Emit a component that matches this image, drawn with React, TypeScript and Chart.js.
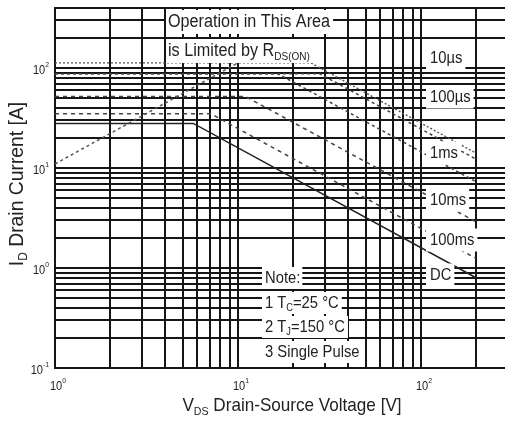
import React, { useEffect, useRef } from "react";
import { Chart, registerables } from "chart.js";
Chart.register(...registerables);

// ---- grid / tick values ----
const xGrid = [1, 2, 3, 4, 5, 6, 7, 8, 9, 10, 20, 30, 40, 50, 60, 70, 80, 90, 100, 200];
const yGrid = [0.1, 0.2, 0.3, 0.4, 0.5, 0.6, 0.7, 0.8, 0.9, 1, 2, 3, 4, 5, 6, 7, 8, 9, 10, 20, 30, 40, 50, 60, 70, 80, 90, 100, 200, 300, 400];
const xDecades = [1, 10, 100];
const xExps = ["0", "1", "2"];
const yDecades = [0.1, 1, 10, 100];
const yExps = ["-1", "0", "1", "2"];

// ---- curves (VDS [V], ID [A]) ----
const rdsV = [1, 10];
const rdsI = [11, 113];
const v10us = [1, 25, 200];
const i10us = [113, 113, 14.1];
const v100us = [1, 28, 200];
const i100us = [88, 88, 12.3];
const v1ms = [1, 16.5, 200];
const i1ms = [88, 88, 7.3];
const v10ms = [1, 11, 200];
const i10ms = [52, 52, 2.9];
const v100ms = [1, 7.1, 200];
const i100ms = [35, 35, 1.25];
const vDC = [1, 5.7, 200];
const iDC = [28, 28, 0.8];

const curveLabels = ["10µs", "100µs", "1ms", "10ms", "100ms", "DC"];

const FONT = "'Liberation Sans', Arial, Helvetica, sans-serif";

type Part = [string, "n" | "sub" | "sup"];

function partFont(size: number, mode: string) {
  const s = mode === "n" ? size : size * 0.62;
  return `${s}px ${FONT}`;
}
function richWidth(ctx: CanvasRenderingContext2D, parts: Part[], size: number, sx = 1) {
  let w = 0;
  for (const [t, m] of parts) {
    ctx.font = partFont(size, m);
    w += ctx.measureText(t).width;
  }
  return w * sx;
}
function drawRich(ctx: CanvasRenderingContext2D, parts: Part[], x: number, y: number, size: number, align: "left" | "center" | "right", sx = 1) {
  const w = richWidth(ctx, parts, size, sx);
  const left = align === "left" ? x : align === "center" ? x - w / 2 : x - w;
  ctx.save();
  ctx.translate(left, y);
  ctx.scale(sx, 1);
  ctx.textAlign = "left";
  ctx.textBaseline = "middle";
  let cx = 0;
  for (const [t, m] of parts) {
    ctx.font = partFont(size, m);
    const dy = m === "sub" ? size * 0.32 : m === "sup" ? -size * 0.38 : 0;
    ctx.fillText(t, cx, dy);
    cx += ctx.measureText(t).width;
  }
  ctx.restore();
  return w;
}

function boxedText(ctx: CanvasRenderingContext2D, parts: Part[], x: number, y: number, size: number, sx: number, padL = 3, padR = 3, h = 22) {
  const w = richWidth(ctx, parts, size, sx);
  ctx.fillStyle = "#fff";
  ctx.fillRect(x - padL, y - h / 2, w + padL + padR, h);
  ctx.fillStyle = "#222";
  drawRich(ctx, parts, x, y, size, "left", sx);
}

const annotPlugin = {
  id: "annot",
  afterDatasetsDraw(chart: any) {
    const ctx: CanvasRenderingContext2D = chart.ctx;
    const xs = chart.scales.x;
    const ys = chart.scales.y;
    ctx.save();
    // region text
    boxedText(ctx, [["Operation in This Area", "n"]], 168, 22, 18, 0.9, 2, 3, 24);
    boxedText(ctx, [["is Limited by R", "n"], ["DS(ON)", "sub"]], 168, 51, 18, 0.9, 2, 5, 24);
    // curve labels
    const lx = 430;
    const ly = [58, 97, 153, 200, 240, 275];
    curveLabels.forEach((t, i) => boxedText(ctx, [[t, "n"]], lx, ly[i], 17, 0.87, 4, 3, 23));
    // note
    boxedText(ctx, [["Note:", "n"]], 265, 278, 17, 0.87, 3, 2, 22);
    boxedText(ctx, [["1 T", "n"], ["C", "sub"], ["=25 °C", "n"]], 265, 303, 17, 0.87, 3, 3, 22);
    boxedText(ctx, [["2 T", "n"], ["J", "sub"], ["=150 °C", "n"]], 265, 327, 17, 0.87, 3, 3, 22);
    boxedText(ctx, [["3 Single Pulse", "n"]], 265, 352, 17, 0.87, 3, 3, 22);

    // tick labels
    ctx.fillStyle = "#222";
    xDecades.forEach((v, i) => {
      const px = xs.getPixelForValue(v);
      drawRich(ctx, [["10", "n"], [xExps[i], "sup"]], px + 3, 386, 13, "center", 0.85);
    });
    yDecades.forEach((v, i) => {
      const py = ys.getPixelForValue(v);
      drawRich(ctx, [["10", "n"], [yExps[i], "sup"]], 49, py + 2, 13, "right", 0.85);
    });
    // axis titles
    drawRich(ctx, [["V", "n"], ["DS", "sub"], [" Drain-Source Voltage [V]", "n"]], 292, 406, 19, "center", 0.9);
    ctx.translate(17, 184);
    ctx.rotate(-Math.PI / 2);
    drawRich(ctx, [["I", "n"], ["D", "sub"], [" Drain Current [A]", "n"]], 0, 0, 21, "center", 0.92);
    ctx.restore();
  },
};

function pts(v: number[], i: number[]) {
  return v.map((x, k) => ({ x, y: i[k] }));
}

export default function App() {
  const ref = useRef<HTMLCanvasElement>(null);
  useEffect(() => {
    const canvas = ref.current!;
    const line = (label: string, v: number[], i: number[], dash: number[], width: number, color: string) => ({
      label,
      data: pts(v, i),
      borderColor: color,
      borderWidth: width,
      borderDash: dash,
      pointRadius: 0,
      fill: false,
      tension: 0,
    });
    const chart = new Chart(canvas, {
      type: "line",
      data: {
        datasets: [
          line("RDS(ON)", rdsV, rdsI, [3, 3], 1.5, "#555"),
          line(curveLabels[0], v10us, i10us, [2, 2], 1.4, "#555"),
          line(curveLabels[1], v100us, i100us, [3, 3], 1.5, "#444"),
          line(curveLabels[2], v1ms, i1ms, [3, 3], 1.5, "#444"),
          line(curveLabels[3], v10ms, i10ms, [4, 4], 1.5, "#444"),
          line(curveLabels[4], v100ms, i100ms, [4, 4], 1.5, "#444"),
          line(curveLabels[5], vDC, iDC, [], 1.5, "#222"),
        ],
      } as any,
      options: {
        responsive: false,
        animation: false,
        devicePixelRatio: 1,
        layout: { padding: { top: 8, right: 0, left: 0, bottom: 0 } },
        plugins: { legend: { display: false }, tooltip: { enabled: false } },
        scales: {
          x: {
            type: "logarithmic",
            min: 1,
            max: 288,
            afterBuildTicks: (s: any) => {
              s.ticks = xGrid.map((value) => ({ value }));
            },
            afterFit: (s: any) => {
              s.height = 55;
            },
            ticks: { display: false },
            grid: { color: "#151515", lineWidth: 2, drawTicks: false },
            border: { color: "#151515", width: 2 },
          },
          y: {
            type: "logarithmic",
            min: 0.1,
            max: 400,
            afterBuildTicks: (s: any) => {
              s.ticks = yGrid.map((value) => ({ value }));
            },
            afterFit: (s: any) => {
              s.width = 55;
            },
            ticks: { display: false },
            grid: { color: "#151515", lineWidth: 2, drawTicks: false },
            border: { color: "#151515", width: 2 },
          },
        },
      } as any,
      plugins: [annotPlugin],
    });
    return () => chart.destroy();
  }, []);
  return (
    <div style={{ position: "fixed", left: 0, top: 0, width: 505, height: 423, background: "#fff" }}>
      <canvas ref={ref} width={505} height={423} style={{ width: 505, height: 423 }} />
    </div>
  );
}
